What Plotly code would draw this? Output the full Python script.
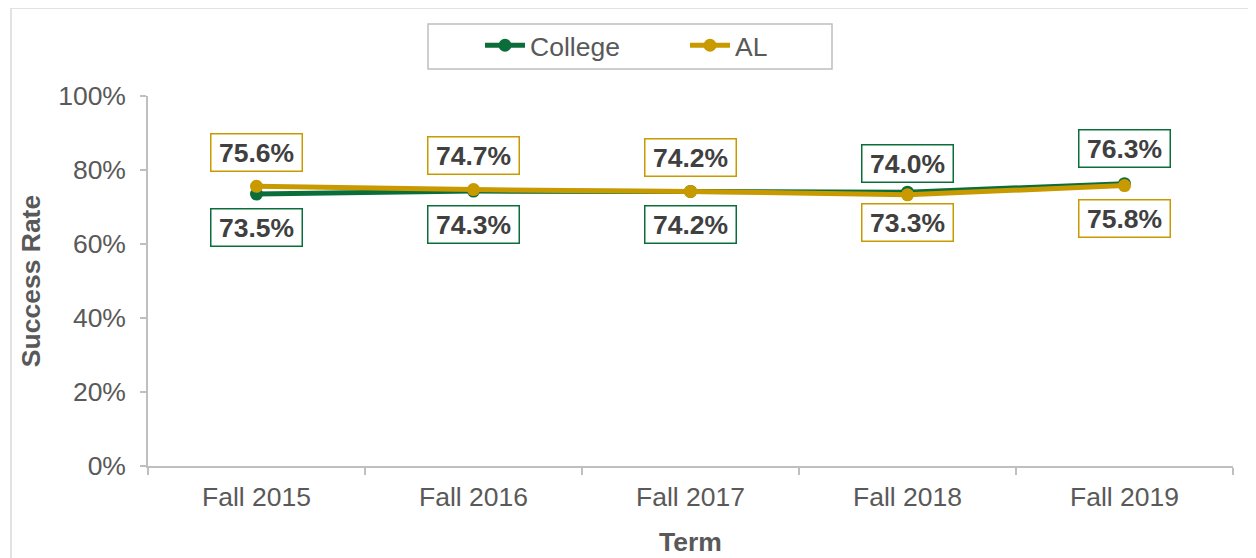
import plotly.graph_objects as go

terms = ["Fall 2015", "Fall 2016", "Fall 2017", "Fall 2018", "Fall 2019"]
college = [0.735, 0.743, 0.742, 0.740, 0.763]
al = [0.756, 0.747, 0.742, 0.733, 0.758]
y_ticks = [0, 0.2, 0.4, 0.6, 0.8, 1.0]
y_tick_labels = ["0%", "20%", "40%", "60%", "80%", "100%"]

GREEN = "#0b6e3a"
GOLD = "#c99a00"
FONT = "Liberation Sans, Arial, sans-serif"
FS = 26.5

# label offsets in px (positive = above point)
college_shift = [-33, -33, -33, 29, 35]
al_shift = [34, 34, 34, -28, -33]

fig = go.Figure()
fig.add_trace(go.Scatter(x=terms, y=college, name="College", mode="lines+markers",
                         line=dict(color=GREEN, width=5), marker=dict(size=13, color=GREEN)))
fig.add_trace(go.Scatter(x=terms, y=al, name="AL", mode="lines+markers",
                         line=dict(color=GOLD, width=5), marker=dict(size=13, color=GOLD)))

annotations = []
for vals, shifts, col in [(college, college_shift, GREEN), (al, al_shift, GOLD)]:
    for t, v, s in zip(terms, vals, shifts):
        annotations.append(dict(x=t, y=v, xref="x", yref="y", text=f"<b>{v*100:.1f}%</b>",
                                showarrow=False, yshift=s, width=86, height=32,
                                bgcolor="white", bordercolor=col, borderwidth=1.5, borderpad=2,
                                font=dict(family=FONT, size=FS, color="#404040")))

# figure coordinates (page coords minus 8px body margin)
W, H = 1248, 550
L, R, T, B = 140, 1225, 88, 458
pw, ph = R - L, B - T
def px(x):
    return (x - L) / pw
def py(y):
    return (B - y) / ph

fig.update_layout(
    width=W, height=H,
    margin=dict(l=L, r=W - R, t=T, b=H - B),
    paper_bgcolor="white", plot_bgcolor="white",
    font=dict(family=FONT, size=FS, color="#595959"),
    showlegend=True,
    legend=dict(orientation="h", x=px(472), xanchor="left", y=py(37.5), yanchor="middle",
                borderwidth=0, font=dict(size=FS, color="#595959"),
                itemwidth=40, entrywidth=150, bgcolor="rgba(0,0,0,0)"),
    annotations=annotations,
    shapes=[
        dict(type="rect", xref="paper", yref="paper", x0=px(3), x1=px(1262),
             y0=py(0), y1=py(570), line=dict(color="#d9d9d9", width=1.5),
             fillcolor="rgba(0,0,0,0)", layer="below"),
        dict(type="rect", xref="paper", yref="paper", x0=px(420), x1=px(824),
             y0=py(16), y1=py(61), line=dict(color="#bfbfbf", width=1.5),
             fillcolor="rgba(0,0,0,0)", layer="below"),
    ],
)
fig.update_xaxes(type="category", range=[-0.5, 4.5], showline=True, linecolor="#bfbfbf", linewidth=1.5,
                 ticks="outside", tickson="boundaries", ticklen=7, tickcolor="#bfbfbf", tickwidth=1.5,
                 showgrid=False, zeroline=False, ticklabelstandoff=6, automargin=False,
                 title=dict(text="<b>Term</b>", font=dict(size=FS, color="#595959"), standoff=22))
fig.update_yaxes(range=[0, 1], tickvals=y_ticks, ticktext=y_tick_labels, showline=True,
                 linecolor="#bfbfbf", linewidth=1.5, ticks="outside", ticklen=6, tickcolor="#bfbfbf",
                 tickwidth=1.5, showgrid=False, zeroline=False, ticklabelstandoff=9, automargin=False,
                 title=dict(text="<b>Success Rate</b>", font=dict(size=FS, color="#595959"), standoff=10))

fig.write_html("out.html")
